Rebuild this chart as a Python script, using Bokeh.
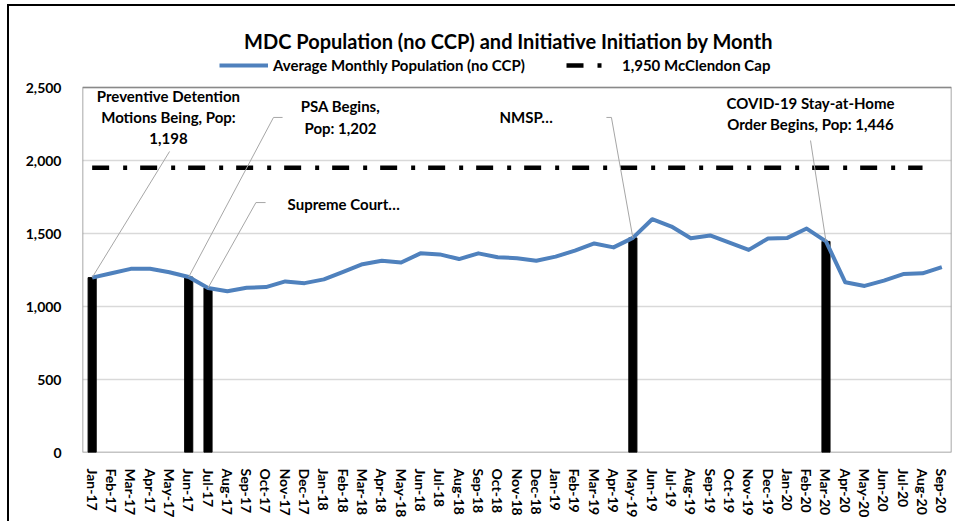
from bokeh.plotting import figure
from bokeh.models import (FactorRange, Range1d, FixedTicker, NumeralTickFormatter,
                          Label, Legend, LegendItem)
from bokeh.embed import file_html
from bokeh.resources import INLINE

# ---------------- data ----------------
months = ["Jan-17", "Feb-17", "Mar-17", "Apr-17", "May-17", "Jun-17", "Jul-17", "Aug-17",
          "Sep-17", "Oct-17", "Nov-17", "Dec-17", "Jan-18", "Feb-18", "Mar-18", "Apr-18",
          "May-18", "Jun-18", "Jul-18", "Aug-18", "Sep-18", "Oct-18", "Nov-18", "Dec-18",
          "Jan-19", "Feb-19", "Mar-19", "Apr-19", "May-19", "Jun-19", "Jul-19", "Aug-19",
          "Sep-19", "Oct-19", "Nov-19", "Dec-19", "Jan-20", "Feb-20", "Mar-20", "Apr-20",
          "May-20", "Jun-20", "Jul-20", "Aug-20", "Sep-20"]
population = [1198, 1228, 1258, 1259, 1235, 1202, 1127, 1105,
              1128, 1133, 1172, 1160, 1186, 1237, 1290, 1314,
              1301, 1364, 1357, 1325, 1364, 1338, 1331, 1313,
              1342, 1383, 1432, 1405, 1470, 1598, 1548, 1468,
              1487, 1438, 1388, 1466, 1470, 1534, 1446, 1166,
              1141, 1177, 1222, 1227, 1270]
event_months = ["Jan-17", "Jun-17", "Jul-17", "May-19", "Mar-20"]
event_pop = [1198, 1202, 1127, 1470, 1446]
event_labels = ["Preventive Detention\nMotions Being, Pop:\n1,198",
                "PSA Begins,\nPop: 1,202",
                "Supreme Court\u2026",
                "NMSP\u2026",
                "COVID-19 Stay-at-Home\nOrder Begins, Pop: 1,446"]
cap_months = months[:44]
cap_value = [1950] * len(cap_months)
y_ticks = [0, 500, 1000, 1500, 2000, 2500]

title_text = "MDC Population (no CCP) and Initiative Initiation by Month"
series_name = "Average Monthly Population (no CCP)"
cap_name = "1,950 McClendon Cap"

FONT = "Lato"
BLUE = "#4f81bd"
GRAY = "#a6a6a6"

# plot box spans 0..2500; the range extends upward so the title and
# legend area belong to the frame
Y_TOP = y_ticks[-1]
Y_MAX = 3055

# ---------------- figure ----------------
p = figure(x_range=FactorRange(*months, range_padding=0), y_range=Range1d(0, Y_MAX),
           width=948, height=517, output_backend="svg", toolbar_location=None,
           title=None, min_border_left=73, min_border_right=6,
           min_border_top=0, min_border_bottom=71)
p.styles = {"border-top": "2px solid black", "border-left": "2px solid black",
            "margin-left": "7px", "margin-top": "4px"}
p.background_fill_color = "white"
p.outline_line_color = None

p.xgrid.grid_line_color = None
p.ygrid.grid_line_color = "#d9d9d9"
p.ygrid.grid_line_width = 1.5

p.yaxis.ticker = FixedTicker(ticks=y_ticks)
p.yaxis.formatter = NumeralTickFormatter(format="0,0")
for ax in (p.xaxis[0], p.yaxis[0]):
    ax.axis_line_color = None
    ax.major_tick_line_color = None
    ax.minor_tick_line_color = None
    ax.major_label_text_font = FONT
    ax.major_label_text_font_style = "bold"
    ax.major_label_text_font_size = "14px"
    ax.major_label_text_color = "black"
p.yaxis.major_label_standoff = 15
p.xaxis.major_label_orientation = "vertical"
p.xaxis.major_label_standoff = 10

# plot-area box
p.quad(left=0, right=len(months), bottom=0, top=Y_TOP, fill_color=None,
       line_color="#898989", line_width=1.5)

# bars marking initiative start
p.vbar(x=event_months, top=event_pop, width=0.42, color="black")

# cap line
cap_r = p.line(cap_months, cap_value, line_color="black", line_width=4.5,
               line_dash="17 14 4 13")

# population line
pop_r = p.line(months, population, line_color=BLUE, line_width=4, line_join="round")

# ---------------- annotations ----------------
idx = {m: i + 0.5 for i, m in enumerate(months)}

leaders = [
    [(4.51, 2062)],
    [(9.89, 2295), (10.36, 2295)],
    [(8.98, 1712), (9.48, 1712)],
    [(27.39, 2295), (27.13, 2295)],
    [(37.70, 2137)],
]
for m, v, pts in zip(event_months, event_pop, leaders):
    xs = [idx[m]] + [q[0] for q in pts]
    ys = [v] + [q[1] for q in pts]
    p.line(xs, ys, line_color=GRAY, line_width=1)

label_pos = [
    dict(x=4.45, y=2506, text_align="center", text_baseline="top"),
    dict(x=13.36, y=2432, text_align="center", text_baseline="top"),
    dict(x=10.62, y=1699, text_align="left", text_baseline="middle"),
    dict(x=21.59, y=2301, text_align="left", text_baseline="middle"),
    dict(x=37.70, y=2458, text_align="center", text_baseline="top"),
]
for txt, pos in zip(event_labels, label_pos):
    p.add_layout(Label(text=txt, text_font=FONT, text_font_style="bold",
                       text_font_size="15px", text_color="black",
                       text_line_height=1.18, **pos))

# title
p.add_layout(Label(x=22.06, y=2822, text=title_text, text_align="center",
                   text_baseline="middle", text_font=FONT,
                   text_font_style="bold", text_font_size="20px", text_color="black"))

# legends
common = dict(orientation="horizontal", glyph_height=16, label_height=16,
              padding=0, margin=0, border_line_color=None, background_fill_alpha=0,
              label_text_font=FONT, label_text_font_style="bold",
              label_text_font_size="15px", label_text_color="black")
leg1 = Legend(items=[LegendItem(label=series_name, renderers=[pop_r])],
              location=(137, 378), glyph_width=49, label_standoff=5, **common)
leg2 = Legend(items=[LegendItem(label=cap_name, renderers=[cap_r])],
              location=(484, 378), glyph_width=44, label_standoff=12, **common)
p.add_layout(leg1, "center")
p.add_layout(leg2, "center")

open("out.html", "w").write(file_html(p, INLINE))
